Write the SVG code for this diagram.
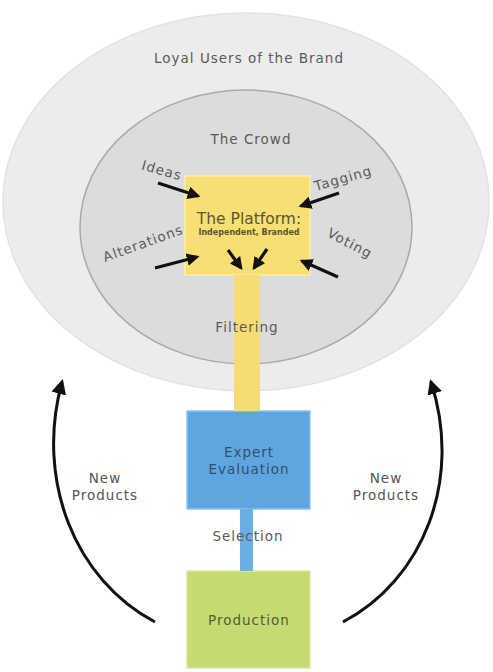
<svg xmlns="http://www.w3.org/2000/svg" width="493" height="672" viewBox="0 0 493 672">
  <defs>
    <marker id="head" viewBox="0 0 10 10" refX="8" refY="5" markerWidth="4" markerHeight="4" orient="auto" markerUnits="strokeWidth">
      <path d="M0,0 L10,5 L0,10 z" fill="#111"/>
    </marker>
    <marker id="bighead" viewBox="0 0 10 10" refX="8" refY="5" markerWidth="5" markerHeight="5" orient="auto" markerUnits="strokeWidth">
      <path d="M0,0 L10,5 L0,10 z" fill="#111"/>
    </marker>
    <style>
      text { font-family: "DejaVu Sans", "Liberation Sans", sans-serif; fill: #5a5a5a; text-anchor: middle; letter-spacing: 1px; }
      .lbl { font-size: 13.5px; }
      .side { font-size: 13.5px; fill: #555; }
      .arrow { stroke: #111; stroke-width: 3.2; fill: none; marker-end: url(#head); }
      .loop { stroke: #111; stroke-width: 3; fill: none; marker-end: url(#bighead); }
    </style>
  </defs>
  <rect width="493" height="672" fill="#ffffff"/>

  <!-- audience rings -->
  <g id="loyal-users">
    <ellipse cx="246" cy="202" rx="243" ry="189" fill="#ececec" stroke="#e2e2e2" stroke-width="1.5"/>
    <text class="lbl" x="249" y="63">Loyal Users of the Brand</text>
  </g>
  <g id="crowd">
    <ellipse cx="246" cy="227" rx="166" ry="137" fill="#dcdcdc" stroke="#a9a9a9" stroke-width="1.5"/>
    <text class="lbl" x="251" y="144">The Crowd</text>
  </g>

  <!-- crowd inputs -->
  <g id="inputs">
    <text class="lbl" x="162" y="175" transform="rotate(16 162 170)">Ideas</text>
    <text class="lbl" x="343" y="183" transform="rotate(-16 343 178)">Tagging</text>
    <text class="lbl" x="143" y="248" transform="rotate(-20 143 243)">Alterations</text>
    <text class="lbl" x="350" y="248" transform="rotate(28 350 243)">Voting</text>
  </g>

  <g id="platform">
    <rect x="185" y="176" width="125" height="99" fill="#f8df74" stroke="#fbeea8" stroke-width="1.5"/>
    <text x="249" y="224" style="font-size:15.5px; fill:#5b5530; letter-spacing:0">The Platform:</text>
    <text x="249" y="235" style="font-size:8px; font-weight:bold; fill:#5b5530; letter-spacing:0">Independent, Branded</text>
  </g>

  <g id="expert-evaluation">
    <rect x="187" y="411" width="123" height="98" fill="#5fa6e0" stroke="#8fc4ee" stroke-width="1.5"/>
    <text class="lbl" x="249" y="457" style="fill:#2f4f6e">Expert</text>
    <text class="lbl" x="249" y="474" style="fill:#2f4f6e">Evaluation</text>
  </g>

  <g id="production">
    <rect x="187" y="571" width="123" height="97" fill="#c4db72" stroke="#dbe9a5" stroke-width="1.5"/>
    <text class="lbl" x="249" y="625" style="fill:#555a3a">Production</text>
  </g>

  <g id="new-products">
    <text class="side" x="105" y="483">New</text>
    <text class="side" x="105" y="500">Products</text>
    <text class="side" x="386" y="483">New</text>
    <text class="side" x="386" y="500">Products</text>
  </g>

  <!-- stems, arrows and their labels -->
  <g id="connectors">
    <rect x="234" y="275" width="26" height="136" fill="#f6dc73"/>
    <rect x="240" y="509" width="13" height="62" fill="#6aaee4"/>
    <text class="lbl" x="247" y="332">Filtering</text>
    <text class="lbl" x="248" y="541">Selection</text>

    <line class="arrow" x1="158" y1="183" x2="198" y2="196"/>
    <line class="arrow" x1="339" y1="193" x2="301" y2="206"/>
    <line class="arrow" x1="155" y1="268" x2="197" y2="257"/>
    <line class="arrow" x1="338" y1="277" x2="302" y2="261"/>
    <line class="arrow" x1="228" y1="250" x2="241" y2="268"/>
    <line class="arrow" x1="267" y1="249" x2="254" y2="268"/>

    <path class="loop" d="M155,622 C75,580 35,480 62,382"/>
    <path class="loop" d="M343,622 C423,580 463,480 431,382"/>
  </g>
</svg>
